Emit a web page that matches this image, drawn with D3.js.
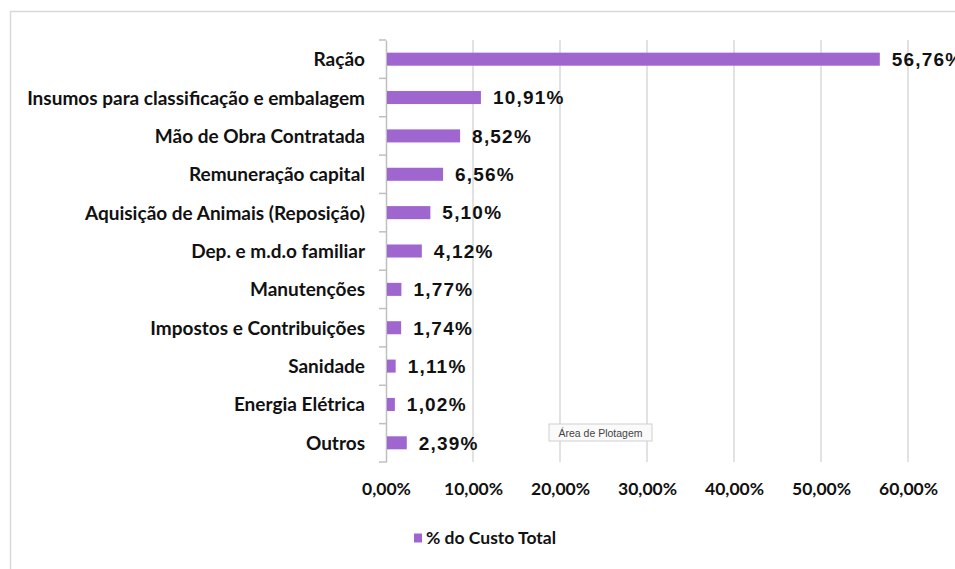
<!DOCTYPE html>
<html>
<head>
<meta charset="utf-8">
<script src="https://cdn.jsdelivr.net/npm/d3@7"></script>
<style>
  body { margin: 0; background: #fff; }
</style>
</head>
<body>
<div id="chart"></div>
<script>
// categorias e valores (% do custo total)
let categories = [
  'Ração',
  'Insumos para classificação e embalagem',
  'Mão de Obra Contratada',
  'Remuneração capital',
  'Aquisição de Animais (Reposição)',
  'Dep. e m.d.o familiar',
  'Manutenções',
  'Impostos e Contribuições',
  'Sanidade',
  'Energia Elétrica',
  'Outros'
];
let values = [56.76, 10.91, 8.52, 6.56, 5.10, 4.12, 1.77, 1.74, 1.11, 1.02, 2.39];
let xTicks = [0, 10, 20, 30, 40, 50, 60];
let seriesName = '% do Custo Total';

let width = 955;
let height = 569;
let margin = { top: 40, right: 47, bottom: 107, left: 386 };

let barColor = '#a066d0';
let labelFont = 'Lato, "Open Sans", sans-serif';
let valueFont = '"Liberation Sans", Arial, sans-serif';

const fmt = v => v.toFixed(2).replace('.', ',') + '%';

const svg = d3.select('#chart').append('svg')
  .attr('width', width)
  .attr('height', height);

// moldura do gráfico
svg.append('rect')
  .attr('x', 10.5).attr('y', 11.5)
  .attr('width', width).attr('height', height)
  .attr('fill', 'none')
  .attr('stroke', '#d9d9d9')
  .attr('stroke-width', 1.5);

let x = d3.scaleLinear()
  .domain([0, 60])
  .range([margin.left, width - margin.right]);

let y = d3.scaleBand()
  .domain(categories)
  .range([margin.top, height - margin.bottom])
  .paddingInner(0.66)
  .paddingOuter(0.33);

// linhas de grade verticais
svg.append('g')
  .selectAll('line')
  .data(xTicks.slice(1))
  .join('line')
  .attr('x1', d => x(d)).attr('x2', d => x(d))
  .attr('y1', margin.top).attr('y2', height - margin.bottom)
  .attr('stroke', '#d9d9d9')
  .attr('stroke-width', 1.5);

// eixo x (só os rótulos)
let xAxis = g => g
  .attr('transform', `translate(0, ${height - margin.bottom})`)
  .call(d3.axisBottom(x).tickValues(xTicks).tickSize(0).tickPadding(21).tickFormat(fmt))
  .call(g => g.select('.domain').remove())
  .call(g => g.selectAll('text')
    .attr('font-family', labelFont)
    .attr('font-weight', 'bold')
    .attr('font-size', 17.5)
    .attr('fill', '#111'));

svg.append('g').call(xAxis);

// eixo y
let yAxis = g => g
  .attr('transform', `translate(${margin.left}, 0)`)
  .call(d3.axisLeft(y).tickSize(0).tickPadding(21))
  .call(g => g.select('.domain').attr('stroke', '#bfbfbf').attr('stroke-width', 1.5))
  .call(g => g.selectAll('text')
    .attr('font-family', labelFont)
    .attr('font-weight', 'bold')
    .attr('font-size', 19)
    .attr('dy', '0.37em')
    .attr('fill', '#111'));

svg.append('g').call(yAxis);

// marcas entre categorias
let bounds = categories.map(c => y(c) - y.step() * y.paddingInner() / 2);
bounds.push(height - margin.bottom);
svg.append('g')
  .selectAll('line')
  .data(bounds)
  .join('line')
  .attr('x1', margin.left - 7).attr('x2', margin.left)
  .attr('y1', d => d).attr('y2', d => d)
  .attr('stroke', '#bfbfbf')
  .attr('stroke-width', 1.5);

// barras
svg.append('g')
  .selectAll('rect')
  .data(values)
  .join('rect')
  .attr('x', x(0) + 1)
  .attr('y', (d, i) => y(categories[i]))
  .attr('width', d => x(d) - x(0) - 1)
  .attr('height', y.bandwidth())
  .attr('fill', barColor);

// rótulos de valor
svg.append('g')
  .selectAll('text')
  .data(values)
  .join('text')
  .attr('x', d => x(d) + 12)
  .attr('y', (d, i) => y(categories[i]) + y.bandwidth() / 2)
  .attr('dy', '0.36em')
  .attr('font-family', valueFont)
  .attr('font-weight', 'bold')
  .attr('font-size', 19)
  .attr('letter-spacing', 1.2)
  .attr('fill', '#111')
  .text(fmt);

// legenda
let legend = svg.append('g').attr('transform', 'translate(414, 538)');
legend.append('rect')
  .attr('x', 0).attr('y', -4.5)
  .attr('width', 8).attr('height', 9)
  .attr('fill', barColor);
legend.append('text')
  .attr('x', 12).attr('y', 0)
  .attr('dy', '0.36em')
  .attr('font-family', labelFont)
  .attr('font-weight', 'bold')
  .attr('font-size', 17.5)
  .attr('fill', '#111')
  .text(seriesName);

// dica "Área de Plotagem"
let tip = svg.append('g').attr('transform', 'translate(549, 424)');
tip.append('rect')
  .attr('width', 103).attr('height', 17)
  .attr('fill', '#fafafa')
  .attr('stroke', '#d0d0d0');
tip.append('text')
  .attr('x', 51.5).attr('y', 9)
  .attr('dy', '0.35em')
  .attr('text-anchor', 'middle')
  .attr('font-family', valueFont)
  .attr('font-size', 10.5)
  .attr('fill', '#444')
  .text('Área de Plotagem');
</script>
</body>
</html>
